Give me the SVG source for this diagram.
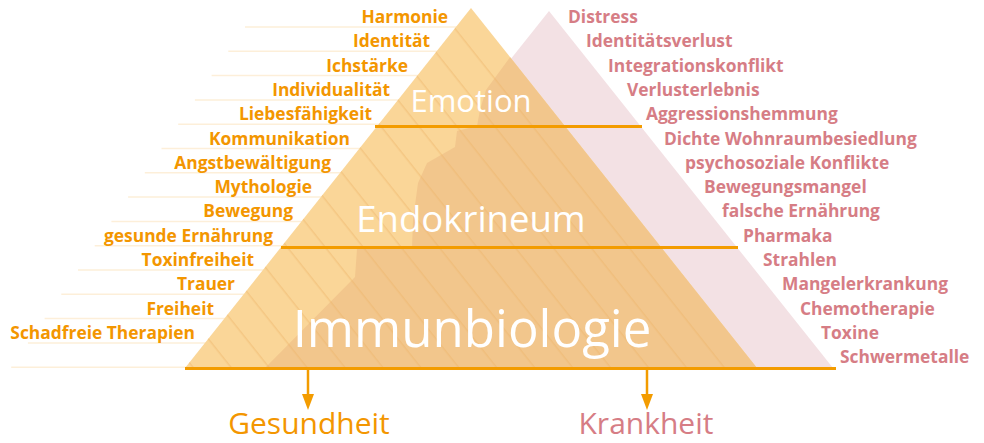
<svg xmlns="http://www.w3.org/2000/svg" width="984" height="443" viewBox="0 0 984 443">
<defs>
<style>
.lab{font-family:"Open Sans","Liberation Sans",sans-serif;font-weight:bold;font-size:17.4px}
.lo{fill:#F39600;text-anchor:end}
.ro{fill:#D67D85}
.lvl{font-family:"Open Sans","Liberation Sans",sans-serif;fill:#FFFFFF;text-anchor:middle}
.out{font-family:"Open Sans","Liberation Sans",sans-serif;font-size:30px;text-anchor:middle}
.faint{stroke:#FDEFD9;stroke-width:1.5}
.lvline{stroke:#F39C00;stroke-width:3}
.conn{stroke:#F39C00;stroke-width:2.5;fill:none}
</style>
<clipPath id="orangeClip"><polygon points="471,8 185,368 757,368"/></clipPath>
<pattern id="stripes" patternUnits="userSpaceOnUse" width="60" height="29.7" patternTransform="translate(497,128) rotate(51.53)">
<line x1="0" y1="0" x2="60" y2="0" stroke="#EEB468" stroke-width="3" stroke-opacity="0.45"/>
</pattern>
</defs>
<g id="guide-lines">
<line class="faint" x1="245" y1="27" x2="470" y2="27"/>
<line class="faint" x1="228.3" y1="51.3" x2="470" y2="51.3"/>
<line class="faint" x1="211.6" y1="75.6" x2="470" y2="75.6"/>
<line class="faint" x1="194.9" y1="99.9" x2="470" y2="99.9"/>
<line class="faint" x1="178.2" y1="124.2" x2="470" y2="124.2"/>
<line class="faint" x1="161.5" y1="148.5" x2="470" y2="148.5"/>
<line class="faint" x1="144.8" y1="172.8" x2="470" y2="172.8"/>
<line class="faint" x1="128.1" y1="197.1" x2="470" y2="197.1"/>
<line class="faint" x1="111.4" y1="221.4" x2="470" y2="221.4"/>
<line class="faint" x1="94.7" y1="245.7" x2="470" y2="245.7"/>
<line class="faint" x1="78" y1="270" x2="470" y2="270"/>
<line class="faint" x1="61.3" y1="294.3" x2="470" y2="294.3"/>
<line class="faint" x1="44.6" y1="318.6" x2="470" y2="318.6"/>
<line class="faint" x1="27.9" y1="342.9" x2="470" y2="342.9"/>
<line class="faint" x1="11.2" y1="367.2" x2="470" y2="367.2"/>
</g>
<g id="pyramid">
<polygon id="pink-pyramid" points="549,11 265,368 833,368" fill="#F3E1E4"/>
<polygon id="orange-pyramid" points="471,8 185,368 757,368" fill="#FAD698"/>
<g clip-path="url(#orangeClip)">
<path d="M511,56 L486,90 L480,110 L477,126 L457,131 L455,147 L427,163 L418,183 L413,220 L412,248 L357,249 L355,277 L265,368 L760,368 L760,40 Z" fill="#F2C68C"/>
<rect x="180" y="0" width="600" height="370" fill="url(#stripes)"/>
</g>
<line class="lvline" x1="375" y1="126.5" x2="642" y2="126.5"/>
<line class="lvline" x1="281" y1="247.5" x2="738" y2="247.5"/>
<line class="lvline" x1="185" y1="368.5" x2="836" y2="368.5"/>
</g>
<g id="level-emotion"><text class="lvl" x="471" y="112" font-size="31">Emotion</text></g>
<g id="level-endokrineum"><text class="lvl" x="471" y="232" font-size="36.5">Endokrineum</text></g>
<g id="level-immunbiologie"><text class="lvl" x="472" y="347" font-size="51">Immunbiologie</text></g>
<g id="health-factors" class="lab">
<text class="lo" x="448" y="23">Harmonie</text>
<text class="lo" x="430" y="47.3">Identität</text>
<text class="lo" x="408" y="71.6">Ichstärke</text>
<text class="lo" x="390" y="95.9">Individualität</text>
<text class="lo" x="372" y="120.2">Liebesfähigkeit</text>
<text class="lo" x="350" y="144.5">Kommunikation</text>
<text class="lo" x="331" y="168.8">Angstbewältigung</text>
<text class="lo" x="312" y="193.1">Mythologie</text>
<text class="lo" x="293" y="217.4">Bewegung</text>
<text class="lo" x="273" y="241.7">gesunde Ernährung</text>
<text class="lo" x="254" y="266">Toxinfreiheit</text>
<text class="lo" x="235" y="290.3">Trauer</text>
<text class="lo" x="214" y="314.6">Freiheit</text>
<text class="lo" x="195" y="338.9">Schadfreie Therapien</text>
</g>
<g id="disease-factors" class="lab">
<text class="ro" x="568" y="23">Distress</text>
<text class="ro" x="586" y="47.3">Identitätsverlust</text>
<text class="ro" x="608" y="71.6">Integrationskonflikt</text>
<text class="ro" x="627" y="95.9">Verlusterlebnis</text>
<text class="ro" x="646" y="120.2">Aggressionshemmung</text>
<text class="ro" x="664" y="144.5">Dichte Wohnraumbesiedlung</text>
<text class="ro" x="685" y="168.8">psychosoziale Konflikte</text>
<text class="ro" x="704" y="193.1">Bewegungsmangel</text>
<text class="ro" x="722" y="217.4">falsche Ernährung</text>
<text class="ro" x="743" y="241.7">Pharmaka</text>
<text class="ro" x="763" y="266">Strahlen</text>
<text class="ro" x="782" y="290.3">Mangelerkrankung</text>
<text class="ro" x="800" y="314.6">Chemotherapie</text>
<text class="ro" x="821" y="338.9">Toxine</text>
<text class="ro" x="840" y="363.2">Schwermetalle</text>
</g>
<g id="connectors">
<line class="conn" x1="308" y1="370" x2="308" y2="396"/>
<polygon points="302,394 314,394 308,410" fill="#F39C00"/>
<line class="conn" x1="647" y1="370" x2="647" y2="396"/>
<polygon points="641,394 653,394 647,410" fill="#F39C00"/>
</g>
<g id="outcome-gesundheit"><text class="out" x="309" y="434" fill="#F39600">Gesundheit</text></g>
<g id="outcome-krankheit"><text class="out" x="646" y="434" fill="#D67D85">Krankheit</text></g>
</svg>
